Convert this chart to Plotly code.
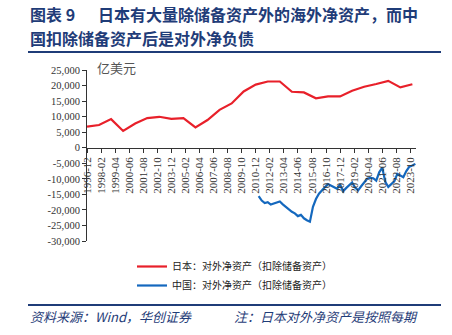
import plotly.graph_objects as go
import pandas as pd

# ---------------- data ----------------
japan_dates = [f"{y}-12-01" for y in range(1996, 2024)]
japan_values = [6800, 7300, 9200, 5400, 7800, 9550, 9950, 9300, 9550, 6550,
                8900, 12200, 14250, 18100, 20300, 21300, 21300, 18000, 17800, 15900,
                16500, 16500, 18300, 19600, 20500, 21500, 19400, 20400]

china_dates = [f"{y}-{m:02d}-01" for y in range(2011, 2025) for m in (3, 6, 9, 12)][:53]
china_values = [-15600, -17000, -17800, -17500, -18300, -17900, -17500, -17300,
                -18200, -19000, -20000, -20600, -21100, -22000, -21600, -22700,
                -23300, -23800, -19000, -16500, -14800, -13600, -12600, -11700,
                -12200, -12600, -13200, -11800, -14000, -13000, -12000, -11200,
                -12800, -13700, -12400, -11000, -10000, -9700, -9800, -10600,
                -7900, -6400, -11000, -12600, -11800, -10800, -8400, -9000,
                -9500, -7500, -6100, -5700, -5200]

series_names = ["日本：对外净资产（扣除储备资产）", "中国：对外净资产（扣除储备资产）"]
tick_dates = pd.date_range("1996-12-01", "2023-10-01", freq="14MS")
tick_text = [d.strftime("%Y-%m") for d in tick_dates]
y_ticks = list(range(-30000, 25001, 5000))
y_text = [f"{v:,}" for v in y_ticks]

title_l1a = "图表 9"
title_l1b = "日本有大量除储备资产外的海外净资产，而中"
title_l2 = "国扣除储备资产后是对外净负债"
unit = "亿美元"
footer_a = "资料来源：Wind，华创证券"
footer_b = "注：日本对外净资产是按照每期"

# ---------------- layout geometry ----------------
W, H = 452, 335
L, R, T, B = 87, 36, 70, 94
PW, PH = W - L - R, H - T - B


def px(x):
    return (x - L) / PW


def py(y):
    return (H - B - y) / PH


NAVY = "#1F3C78"
RED = "#E8202A"
BLUE = "#1468BE"
SERIF = "Liberation Serif, Times New Roman, serif"
CJK = "Noto Sans CJK SC"

fig = go.Figure()
fig.add_trace(go.Scatter(x=japan_dates, y=japan_values, mode="lines", name=series_names[0],
                         line=dict(color=RED, width=2.2)))
fig.add_trace(go.Scatter(x=china_dates, y=china_values, mode="lines", name=series_names[1],
                         line=dict(color=BLUE, width=2.2)))

fig.update_layout(
    width=W, height=H,
    margin=dict(l=L, r=R, t=T, b=B),
    paper_bgcolor="white", plot_bgcolor="white",
    showlegend=True,
    legend=dict(x=px(132), y=py(252), xanchor="left", yanchor="top",
                font=dict(family=CJK, size=10, color="#222"),
                bgcolor="rgba(0,0,0,0)", tracegroupgap=0, itemwidth=30),
    xaxis=dict(type="date", range=["1996-12-01", "2024-03-20"],
               tickmode="array", tickvals=list(tick_dates), ticktext=tick_text,
               tickangle=-90, tickfont=dict(family=SERIF, size=11, color="#333"),
               showline=True, linecolor="#333", linewidth=1,
               ticks="outside", ticklen=4, tickcolor="#333",
               showgrid=False, zeroline=False,
               anchor="free", position=30000 / 55000),
    yaxis=dict(range=[-30000, 25000], tickmode="array", tickvals=y_ticks, ticktext=y_text,
               tickfont=dict(family=SERIF, size=10.5, color="#333"),
               showline=True, linecolor="#333", linewidth=1,
               ticks="outside", ticklen=4, tickcolor="#333",
               showgrid=False, zeroline=False),
    font=dict(family=CJK),
)

ann = [
    dict(text=f"<b>{title_l1a}</b>", x=px(28), y=py(0), xanchor="left", yanchor="top",
         font=dict(family=CJK, size=16, color=NAVY)),
    dict(text=f"<b>{title_l1b}</b>", x=px(96), y=py(0), xanchor="left", yanchor="top",
         font=dict(family=CJK, size=16, color=NAVY)),
    dict(text=f"<b>{title_l2}</b>", x=px(28), y=py(24), xanchor="left", yanchor="top",
         font=dict(family=CJK, size=16, color=NAVY)),
    dict(text=unit, x=px(95), y=py(68), xanchor="left", yanchor="middle",
         font=dict(family=CJK, size=13, color="#555")),
    dict(text=f"<i>{footer_a}</i>", x=px(28), y=py(316), xanchor="left", yanchor="middle",
         font=dict(family=CJK, size=13, color=NAVY)),
    dict(text=f"<i>{footer_b}</i>", x=px(232), y=py(316), xanchor="left", yanchor="middle",
         font=dict(family=CJK, size=13, color=NAVY)),
]
for a in ann:
    a.update(xref="paper", yref="paper", showarrow=False)
fig.update_layout(annotations=ann)

fig.update_layout(shapes=[
    dict(type="line", xref="paper", yref="paper", x0=px(28), x1=px(441), y0=py(52), y1=py(52),
         line=dict(color=NAVY, width=2)),
    dict(type="line", xref="paper", yref="paper", x0=px(28), x1=px(441), y0=py(305), y1=py(305),
         line=dict(color=NAVY, width=2)),
])

fig.write_html("out.html")
